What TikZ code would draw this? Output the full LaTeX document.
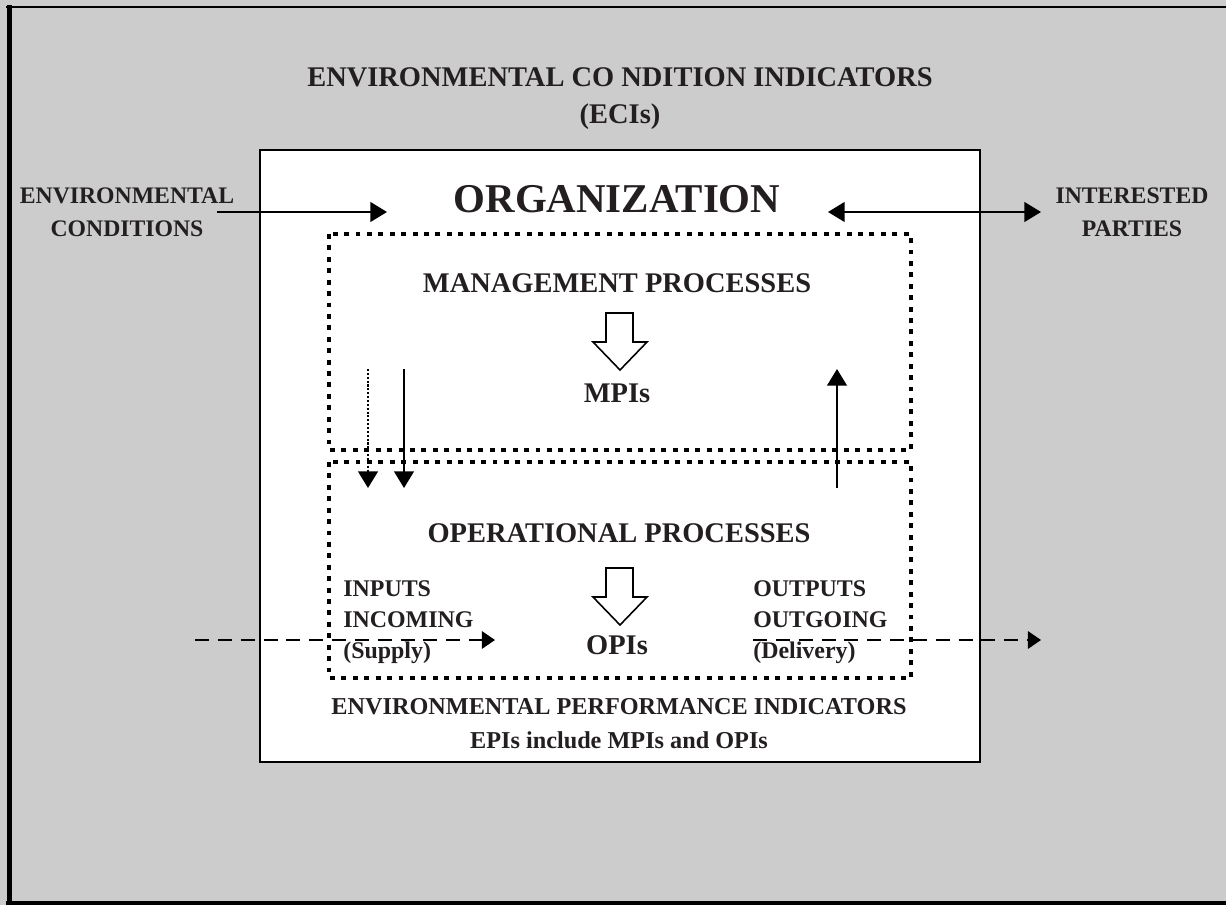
\documentclass[tikz,border=0pt]{standalone}
\usepackage{fontspec}
\setmainfont{Liberation Serif}
\usetikzlibrary{arrows.meta}
\definecolor{bggray}{RGB}{204,204,204}
\definecolor{txt}{RGB}{35,31,32}
\begin{document}
\begin{tikzpicture}[x=0.02cm,y=-0.02cm,
  lbl/.style={font=\bfseries\fontsize{16.2}{18}\selectfont,text=txt,inner sep=0pt,align=center},
  side/.style={font=\bfseries\fontsize{13.5}{18.7}\selectfont,text=txt,inner sep=0pt,align=center},
  small/.style={font=\bfseries\fontsize{13.6}{17.8}\selectfont,text=txt,inner sep=0pt,align=left},
  foot/.style={font=\bfseries\fontsize{13.8}{19.3}\selectfont,text=txt,inner sep=0pt,align=center},
  dotbox/.style={line width=2.8pt,dash pattern=on 2.8pt off 3.7pt},
  arr/.style={line width=1pt,-{Triangle[length=9.5pt,width=11.3pt]}},
  darr/.style={line width=1pt,dash pattern=on 8pt off 5pt,-{Triangle[length=7.5pt,width=10pt]}},
  blockarrow/.style={draw=black,line width=0.9pt,fill=white,line join=miter}]
\useasboundingbox (0,0) rectangle (1226,905);
% background frame
\fill[bggray] (0,0) rectangle (1226,905);
\draw[line width=1.6pt] (6,7) -- (1230,7);
\draw[line width=2pt] (6,903) -- (1230,903);
\draw[line width=2.9pt] (9.5,5) -- (9.5,905);
% organization box
\draw[fill=white,line width=1pt] (260,150) rectangle (980,762);
% dotted process boxes
\draw[dotbox] (329,234) rectangle (911,450);
\draw[dotbox] (329,462) rectangle (911,678);
% title
\node[lbl] (eci) at (620,77) {ENVIRONMENTAL CO NDITION INDICATORS};
\node[lbl] (ecis) at (620,117) {(ECIs)};
\node[font=\bfseries\fontsize{23.3}{28}\selectfont,text=txt,inner sep=0pt] (org) at (617,199) {ORGANIZATION};
\node[side] (envc) at (127,212) {ENVIRONMENTAL\\CONDITIONS};
\node[side] (ip) at (1132,212) {INTERESTED\\PARTIES};
\coordinate (ea) at (217,212);
\coordinate (eb) at (387,212);
\coordinate (ia) at (828,212);
\coordinate (ib) at (1041,212);
\draw[arr] (ea) -- (eb);
\draw[line width=1pt,{Triangle[length=9.5pt,width=11.3pt]}-{Triangle[length=9.5pt,width=11.3pt]}] (ia) -- (ib);
% management
\node[lbl] (mgmt) at (617,283) {MANAGEMENT PROCESSES};
\node[lbl] (mpi) at (617,393) {MPIs};
\draw[blockarrow] (606,313) -- (633,313) -- (633,342) -- (647,342) -- (620,370) -- (593,342) -- (606,342) -- cycle;
% vertical arrows
\coordinate (d1a) at (368,369); \coordinate (d1b) at (368,488);
\coordinate (d2a) at (404,369); \coordinate (d2b) at (404,488);
\coordinate (u1a) at (837,488); \coordinate (u1b) at (837,369);
\draw[line width=1.1pt,dash pattern=on 1.2pt off 1pt,-{Triangle[length=9.5pt,width=11.3pt]}] (d1a) -- (d1b);
\draw[arr] (d2a) -- (d2b);
\draw[arr] (u1a) -- (u1b);
% operational
\node[lbl] (ops) at (619,533) {OPERATIONAL PROCESSES};
\node[lbl] (opi) at (617,645) {OPIs};
\draw[blockarrow] (606,568) -- (633,568) -- (633,597) -- (647,597) -- (620,625) -- (593,597) -- (606,597) -- cycle;
\node[small,anchor=west] (inp) at (343,622) {INPUTS\\INCOMING\\(Supply)};
\node[small,anchor=west] (outp) at (753,622) {OUTPUTS\\OUTGOING\\(Delivery)};
\coordinate (ina) at (195,640); \coordinate (inb) at (495,640);
\coordinate (oua) at (753,640); \coordinate (oub) at (1041,640);
\draw[darr] (ina) -- (inb);
\draw[darr] (oua) -- (oub);
% bottom
\node[foot] (epi) at (619,724) {ENVIRONMENTAL PERFORMANCE INDICATORS\\EPIs include MPIs and OPIs};
\end{tikzpicture}
\end{document}
